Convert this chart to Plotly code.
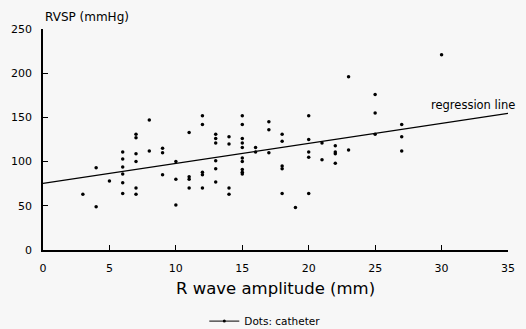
import plotly.graph_objects as go

# R wave amplitude (mm) and RVSP (mmHg)
r_wave = [3, 4, 4, 5,
          6, 6, 6, 6, 6, 6,
          7, 7, 7, 7, 7, 7,
          8, 8,
          9, 9, 9,
          10, 10, 10,
          11, 11, 11, 11,
          12, 12, 12, 12, 12,
          13, 13, 13, 13, 13, 13,
          14, 14, 14, 14,
          15, 15, 15, 15, 15, 15, 15, 15, 15, 15,
          16, 16,
          17, 17, 17,
          18, 18, 18, 18, 18,
          19,
          20, 20, 20, 20, 20,
          21, 21,
          22, 22, 22, 22,
          23, 23,
          25, 25, 25,
          27, 27, 27,
          30]
rvsp = [63, 93, 49, 78,
        111, 103, 94, 86, 76, 64,
        131, 127, 109, 100, 70, 63,
        147, 112,
        115, 110, 85,
        100, 80, 51,
        133, 83, 80, 70,
        152, 142, 88, 85, 70,
        131, 126, 121, 101, 92, 77,
        128, 120, 70, 63,
        152, 142, 126, 121, 116, 104, 100, 91, 88, 86,
        116, 111,
        145, 136, 110,
        131, 123, 95, 92, 64,
        48,
        152, 125, 111, 105, 64,
        121, 102,
        118, 111, 109, 98,
        196, 113,
        176, 155, 131,
        142, 128, 112,
        221]

# regression line
reg_intercept = 75.4
reg_slope = 2.26
reg_x = [0, 35]
reg_y = [reg_intercept + reg_slope * v for v in reg_x]

x_ticks = [0, 5, 10, 15, 20, 25, 30, 35]
y_ticks = [0, 50, 100, 150, 200, 250]

FONT = "DejaVu Sans"

fig = go.Figure()
fig.add_trace(go.Scatter(x=r_wave, y=rvsp, mode="markers",
                         marker=dict(color="black", size=3.5),
                         showlegend=False))
fig.add_trace(go.Scatter(x=reg_x, y=reg_y, mode="lines",
                         line=dict(color="black", width=1.3),
                         showlegend=False))
# legend entry
fig.add_trace(go.Scatter(x=[None], y=[None], mode="lines+markers",
                         name="Dots: catheter",
                         line=dict(color="black", width=1),
                         marker=dict(color="black", size=3)))

fig.add_annotation(x=32.4, y=164, text="regression line", showarrow=False,
                   font=dict(family=FONT, size=11.5, color="black"))
fig.add_annotation(xref="paper", yref="paper", x=0.0, y=1.054,
                   xanchor="left", yanchor="middle", text="RVSP (mmHg)",
                   showarrow=False,
                   font=dict(family=FONT, size=12, color="black"))
fig.add_annotation(xref="paper", yref="paper", x=0.5, y=-0.172,
                   xanchor="center", yanchor="middle",
                   text="R wave amplitude (mm)", showarrow=False,
                   font=dict(family=FONT, size=16.5, color="black"))

fig.update_xaxes(range=[0, 35], tickvals=x_ticks, ticks="inside", ticklen=5,
                 tickcolor="black", showline=True, linecolor="black",
                 linewidth=1.5, showgrid=False, zeroline=False,
                 ticklabelstandoff=7, automargin=False,
                 tickfont=dict(family=FONT, size=11, color="black"))
fig.update_yaxes(range=[0, 250], tickvals=y_ticks, ticks="inside", ticklen=5,
                 tickcolor="black", showline=True, linecolor="black",
                 linewidth=1.5, showgrid=False, zeroline=False,
                 ticklabelstandoff=7, automargin=False,
                 tickfont=dict(family=FONT, size=11, color="black"))

fig.update_layout(width=526, height=329,
                  margin=dict(l=43, r=18, t=29, b=79, autoexpand=False),
                  paper_bgcolor="#f7f7f7", plot_bgcolor="#f7f7f7",
                  showlegend=True,
                  legend=dict(orientation="h", x=0.477, xanchor="center",
                              yref="container", y=0.024, yanchor="middle",
                              font=dict(family=FONT, size=10.5, color="black"),
                              bgcolor="rgba(0,0,0,0)"))

fig.write_html("out.html", config={"displayModeBar": False},
               post_script="document.body.style.margin='0';document.body.style.background='#f7f7f7';")
